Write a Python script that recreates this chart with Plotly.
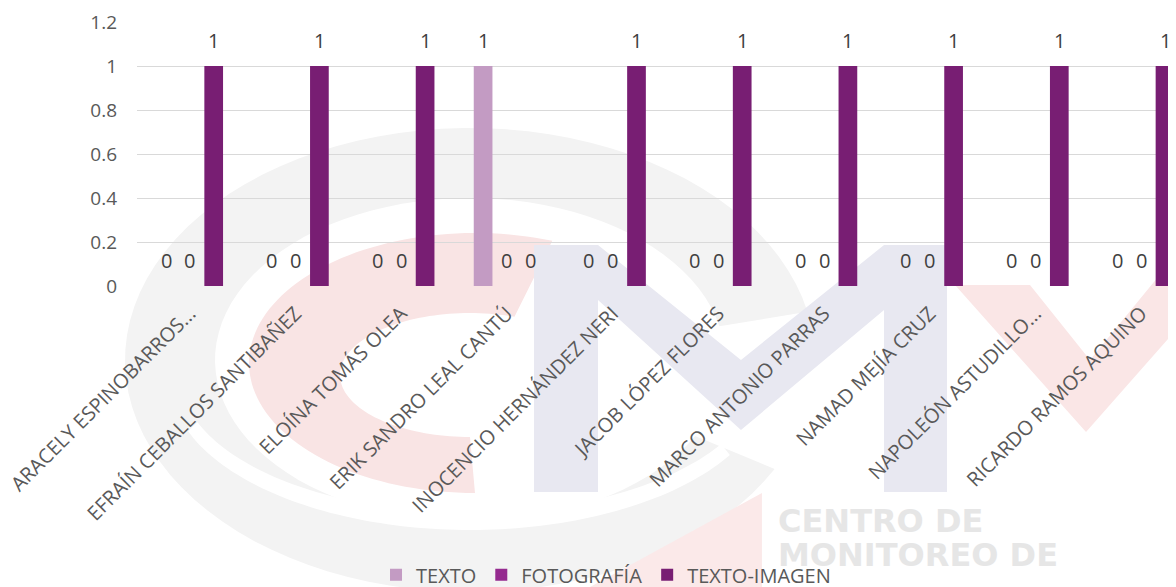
import plotly.graph_objects as go
import numpy as np

# ---------------- data ----------------
categories = [
    "ARACELY ESPINOBARROS...",
    "EFRAÍN CEBALLOS SANTIBAÑEZ",
    "ELOÍNA TOMÁS OLEA",
    "ERIK SANDRO LEAL CANTÚ",
    "INOCENCIO HERNÁNDEZ NERI",
    "JACOB LÓPEZ FLORES",
    "MARCO ANTONIO PARRAS",
    "NAMAD MEJÍA CRUZ",
    "NAPOLEÓN ASTUDILLO...",
    "RICARDO RAMOS AQUINO",
]
series_names = ["TEXTO", "FOTOGRAFÍA", "TEXTO-IMAGEN"]
texto = [0, 0, 0, 1, 0, 0, 0, 0, 0, 0]
fotografia = [0, 0, 0, 0, 0, 0, 0, 0, 0, 0]
texto_imagen = [1, 1, 1, 0, 1, 1, 1, 1, 1, 1]
y_ticks = [0, 0.2, 0.4, 0.6, 0.8, 1, 1.2]

# ---------------- styling ----------------
colors = ["#C39BC3", "#952A8F", "#781E73"]
FONT = "Open Sans"
OFF = 8                   # page body margin of the browser
W, H = 1176 - OFF, 587 - OFF
L_M, T_M, B_M = 137 - OFF, 22 - OFF, 301
PLOT_W = W - L_M
CAT_PX = 105.7            # pixel width of one category band
SLOT_PX = 23.85           # pixel pitch of bars inside a group

fig = go.Figure()
for name, vals, col in zip(series_names, [texto, fotografia, texto_imagen], colors):
    fig.add_trace(go.Bar(name=name, x=categories, y=vals, marker=dict(color=col, line=dict(width=0))))

# data labels (Excel style, above bar end)
annotations = []
for s, vals in enumerate([texto, fotografia, texto_imagen]):
    for c, v in zip(categories, vals):
        annotations.append(dict(
            x=c, y=v, xref="x", yref="y", text=str(v), showarrow=False,
            xshift=(s - 1) * SLOT_PX, yshift=25.5, yanchor="middle",
            font=dict(family=FONT, size=20, color="#404040")))

# ---------------- watermark (background logo), window pixel coords ----------------
def to_paper(px, py):
    px -= OFF
    py -= OFF
    return (px - L_M) / PLOT_W, ((H - B_M) - py) / (H - T_M - B_M)

def poly_path(pts):
    conv = [to_paper(x, y) for x, y in pts]
    return "M " + " L ".join(f"{x:.4f},{y:.4f}" for x, y in conv) + " Z"

def ring(co, ro, ci, ri, a0, a1, n=90):
    t = np.radians(np.linspace(a0, a1, n))
    outer = [(co[0] + ro[0] * np.cos(a), co[1] - ro[1] * np.sin(a)) for a in t]
    inner = [(ci[0] + ri[0] * np.cos(a), ci[1] - ri[1] * np.sin(a)) for a in t[::-1]]
    return outer + inner

shapes = []
def add_poly(pts, color):
    shapes.append(dict(type="path", path=poly_path(pts), xref="paper", yref="paper",
                       fillcolor=color, line=dict(width=0), layer="below"))

add_poly(ring((470, 360), (345, 232), (470, 360), (255, 162), 12, 332), "#f3f3f3")
add_poly(ring((470, 380), (300, 150), (470, 375), (290, 138), 200, 330), "#ffffff")
add_poly(ring((475, 363), (226, 130), (470, 375), (130, 62), 70, 270), "#f9e4e4")
add_poly([(534, 492), (534, 245), (598, 245), (741, 360), (884, 245), (947, 245),
          (947, 492), (884, 492), (884, 310), (741, 430), (598, 300), (598, 492)],
         "#e8e8f1")
add_poly([(955, 285), (1030, 285), (1090, 360), (1176, 255), (1176, 330), (1086, 432)],
         "#fae6e6")
add_poly([(762, 493), (762, 587), (590, 587)], "#fbe9e9")

for txt, px, py in [("CENTRO DE", 776, 521), ("MONITOREO DE", 776, 555)]:
    xp, yp = to_paper(px, py)
    annotations.append(dict(x=xp, y=yp, xref="paper", yref="paper", text=txt, showarrow=False,
                            xanchor="left", yanchor="middle",
                            font=dict(family="DejaVu Sans", size=32, color="#e6e6e6", weight="bold")))

fig.update_layout(
    width=W, height=H,
    margin=dict(l=L_M, r=0, t=T_M, b=B_M, autoexpand=False),
    paper_bgcolor="white", plot_bgcolor="rgba(0,0,0,0)",
    barmode="group", bargap=0.323, bargroupgap=0.216,
    font=dict(family=FONT, color="#595959"),
    showlegend=True,
    legend=dict(orientation="h", xref="container", yref="container", x=0.512, y=0.021,
                xanchor="center", yanchor="middle", font=dict(family=FONT, size=20, color="#595959"),
                bgcolor="rgba(0,0,0,0)", traceorder="normal"),
    annotations=annotations, shapes=shapes,
)
fig.update_xaxes(type="category", range=[-0.5, -0.5 + PLOT_W / CAT_PX], tickangle=-45,
                 showgrid=False, showline=False, zeroline=False, ticks="", automargin=False,
                 tickfont=dict(family=FONT, size=20, color="#595959"), ticklabelstandoff=11)
fig.update_yaxes(range=[0, 1.2], tickvals=y_ticks, ticktext=[f"{v:g}" for v in y_ticks],
                 showgrid=True, gridcolor="#d9d9d9", gridwidth=1.3, zeroline=False, showline=False,
                 ticks="", automargin=False, ticklabelstandoff=19,
                 tickfont=dict(family=FONT, size=19, color="#595959"))

fig.write_html("out.html")
